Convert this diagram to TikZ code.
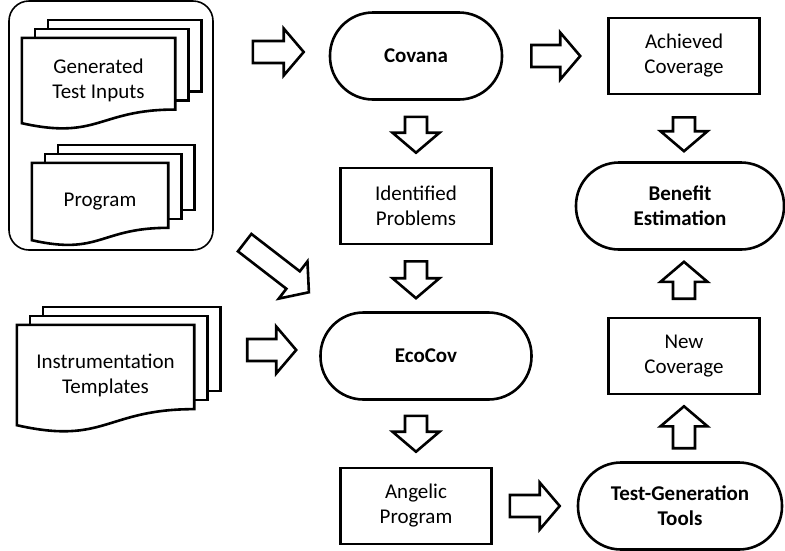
\documentclass[tikz,border=0pt]{standalone}
\usepackage{fontspec}
\setmainfont{Carlito}
\usetikzlibrary{calc,positioning,backgrounds}
% hollow block arrow: from, to, gap at start, gap at end
\newcommand{\fatarrow}[4]{%
    \path ($(#1)!#3!(#2)$) coordinate (fa-s) ($(#2)!#4!(#1)$) coordinate (fa-e);
    \path ($(fa-e)!20pt!(fa-s)$) coordinate (fa-h);
    \draw[fatline] ($(fa-s)!11pt!90:(fa-e)$) -- ($(fa-h)!11pt!90:(fa-e)$) -- ($(fa-h)!23.5pt!90:(fa-e)$)
        -- (fa-e) -- ($(fa-h)!23.5pt!-90:(fa-e)$) -- ($(fa-h)!11pt!-90:(fa-e)$) -- ($(fa-s)!11pt!-90:(fa-e)$) -- cycle;
}
% stack of three pages behind a text node
\newcommand{\docpile}[1]{%
    \foreach \k in {2,1}
        \draw[docline] ($(#1.north west)+(13*\k,-9*\k)$) rectangle ($(#1.north east)!0.84!(#1.south east)+(13*\k,-9*\k)$);
    \draw[docline] (#1.north west) -- (#1.north east) -- ($(#1.north east)!0.84!(#1.south east)$)
        .. controls ($(#1.north)!0.84!(#1.south)$) and ($(#1.north)!1.2!(#1.south)$) .. (#1.south west) -- cycle;
}

\begin{document}
\begin{tikzpicture}[x=1pt,y=-1pt,node distance=150pt,
    every node/.style={font=\fontsize{21}{25}\selectfont, align=center},
    plainbox/.style={draw, line width=2.6pt, minimum width=151pt, minimum height=76pt, inner sep=0pt},
    stadium/.style={draw, line width=2.6pt, rounded corners=43pt, minimum width=172pt, minimum height=87pt,
        inner sep=0pt, font=\fontsize{21}{25}\selectfont\bfseries},
    doctext/.style={inner sep=0pt},
    docline/.style={draw, fill=white, line width=2.6pt},
    groupbox/.style={draw, line width=1.6pt, rounded corners=20pt, minimum width=204pt, minimum height=249pt},
    fatline/.style={draw, fill=white, line width=2.6pt}]
        \useasboundingbox (0,0) rectangle (785,550);

        \node[groupbox] (inputs) at (111,125.5) {};
        \node[doctext, minimum width=153pt, minimum height=85pt] (gen) at (98.5,80.5) {Generated\\Test Inputs};
        \node[doctext, minimum width=136pt, minimum height=77pt] (prog) at (100,201.5) {Program};
        \node[doctext, minimum width=177pt, minimum height=100pt] (instr) at (105.5,375) {Instrumentation\\Templates};
        \begin{scope}[on background layer]
            \docpile{gen}
            \docpile{prog}
            \docpile{instr}
        \end{scope}

        \node[stadium] (covana) at (416,56) {Covana};
        \node[plainbox, below of=covana] (ident) {Identified\\Problems};
        \node[stadium, below of=ident, xshift=10pt, minimum width=211pt] (ecocov) {EcoCov};
        \node[plainbox, below of=ecocov, xshift=-10pt] (angelic) {Angelic\\Program};
        \node[plainbox, right of=covana, node distance=268pt] (achieved) {Achieved\\Coverage};
        \node[stadium, below of=achieved, xshift=-4pt, minimum width=208pt] (benefit) {Benefit\\Estimation};
        \node[plainbox, below of=benefit, xshift=4pt] (newcov) {New\\Coverage};
        \node[stadium, below of=newcov, xshift=-4pt, minimum width=204pt] (testgen) {Test-Generation\\Tools};

        \coordinate (cov-in) at ([yshift=4pt]covana.west);
        \coordinate (eco-in) at ([yshift=6pt]ecocov.west);
        \coordinate (diag-s) at ([yshift=32pt]inputs.south east);
        \coordinate (diag-e) at ([yshift=11pt]ecocov.north west);

        \fatarrow{inputs.east |- cov-in}{cov-in}{39pt}{25pt}
        \fatarrow{covana.east}{achieved.west}{28pt}{27pt}
        \fatarrow{covana.south}{ident.north}{16pt}{14pt}
        \fatarrow{ident.south}{ident.south |- ecocov.north}{16pt}{13pt}
        \fatarrow{ecocov.south -| angelic.north}{angelic.north}{15pt}{15pt}
        \fatarrow{angelic.east}{testgen.west |- angelic.east}{17pt}{17pt}
        \fatarrow{achieved.south}{achieved.south |- benefit.north}{22pt}{10pt}
        \fatarrow{newcov.north}{newcov.north |- benefit.south}{18pt}{11pt}
        \fatarrow{testgen.north -| newcov.south}{newcov.south}{13pt}{11pt}
        \fatarrow{instr.east |- eco-in}{eco-in}{53pt}{23pt}
        \fatarrow{diag-s}{diag-e}{39pt}{13pt}
    \end{tikzpicture}
\end{document}
